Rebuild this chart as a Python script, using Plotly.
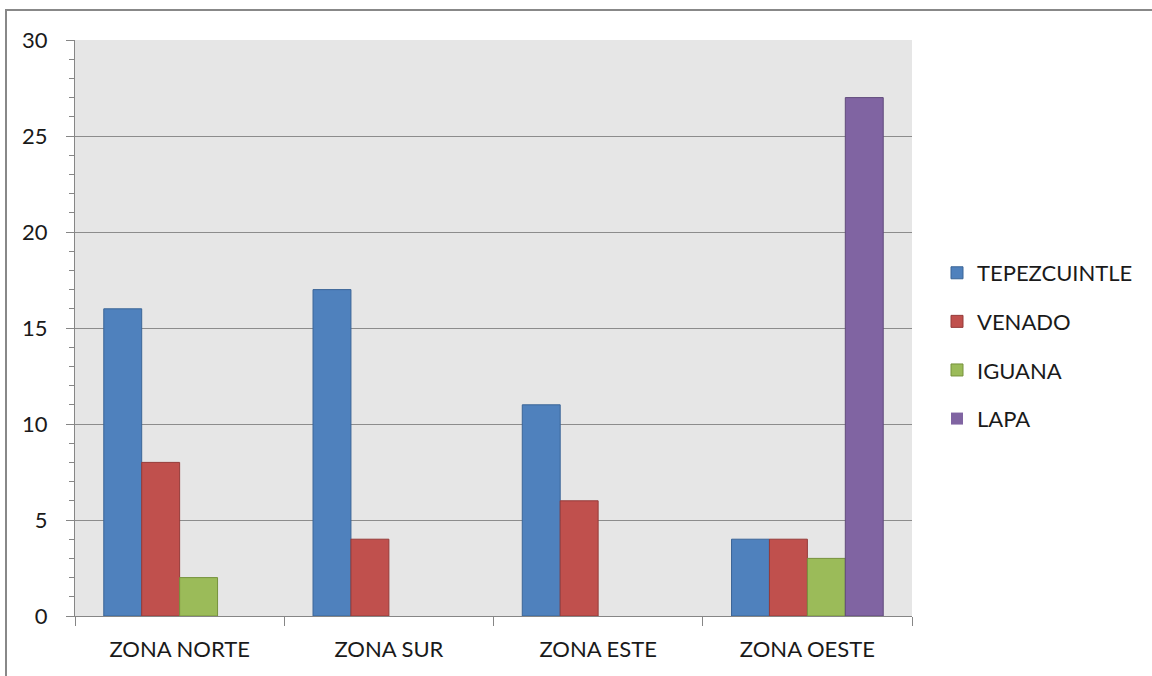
import plotly.graph_objects as go

categories = ["ZONA NORTE", "ZONA SUR", "ZONA ESTE", "ZONA OESTE"]
series_names = ["TEPEZCUINTLE", "VENADO", "IGUANA", "LAPA"]
tepezcuintle = [16, 17, 11, 4]
venado = [8, 4, 6, 4]
iguana = [2, 0, 0, 3]
lapa = [0, 0, 0, 27]
y_ticks = [0, 5, 10, 15, 20, 25, 30]

values = [tepezcuintle, venado, iguana, lapa]
fills = ["#4F81BD", "#C0504D", "#9BBB59", "#8064A2"]
edges = ["#3B6597", "#953B39", "#76923C", "#604A7B"]

fig = go.Figure()
for i, (name, vals) in enumerate(zip(series_names, values)):
    fig.add_trace(go.Bar(
        x=categories, y=vals, name=name,
        marker=dict(color=fills[i],
                    line=dict(color=edges[i], width=[1 if v else 0 for v in vals])),
        legendgroup=name,
    ))

font = "Lato, 'Open Sans', sans-serif"
fig.update_layout(
    width=1152, height=676,
    margin=dict(l=75, r=240, t=40, b=60, autoexpand=False),
    paper_bgcolor="white",
    plot_bgcolor="#E6E6E6",
    barmode="group",
    bargap=0.275,
    bargroupgap=0,
    font=dict(family=font, size=22, color="#1a1a1a"),
    legend=dict(
        x=(937 - 75) / 837, y=0.632, xanchor="left", yanchor="top",
        font=dict(size=22), tracegroupgap=17,
        bgcolor="rgba(0,0,0,0)", itemwidth=30,
    ),
    xaxis=dict(
        automargin=False,
        showline=True, linecolor="#868686", linewidth=1,
        ticks="outside", tickson="boundaries", ticklen=9, tickcolor="#868686",
        showgrid=False, ticklabelstandoff=14,
    ),
    yaxis=dict(
        automargin=False,
        range=[0, 30], tickvals=y_ticks,
        showline=True, linecolor="#868686", linewidth=1,
        ticks="outside", ticklen=8, tickcolor="#868686",
        showgrid=True, gridcolor="#8C8C8C", gridwidth=1,
        zeroline=False, ticklabelstandoff=14,
        minor=dict(dtick=1, ticks="outside", ticklen=5, tickcolor="#868686", showgrid=False),
    ),
    shapes=[dict(
        type="rect", xref="paper", yref="paper",
        x0=(6 - 75) / 837, x1=(1170 - 75) / 837,
        y0=(616 - 700) / 576, y1=(616 - 10) / 576,
        line=dict(color="#888888", width=2), fillcolor="rgba(0,0,0,0)", layer="below",
    )],
)

fig.write_html(
    "out.html",
    config={"displayModeBar": False},
    post_script="document.body.style.margin='0';document.body.style.overflow='hidden';",
)
